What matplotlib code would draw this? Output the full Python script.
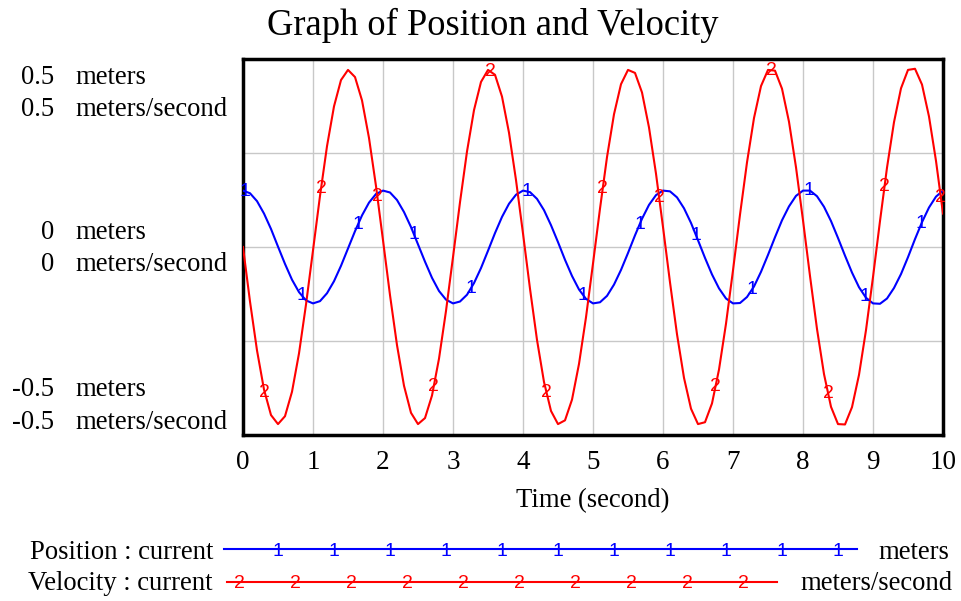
import matplotlib
matplotlib.use("Agg")
import matplotlib.pyplot as plt
import numpy as np
from matplotlib.transforms import blended_transform_factory, ScaledTranslation
from matplotlib.lines import Line2D

# ---------------- data ----------------
time = np.linspace(0, 10, 101)

position = [
    0.150, 0.143, 0.122, 0.089, 0.048, 0.001, -0.045, -0.087, -0.120, -0.142,
    -0.150, -0.144, -0.123, -0.091, -0.050, -0.004, 0.042, 0.084, 0.118, 0.141,
    0.150, 0.145, 0.125, 0.093, 0.053, 0.007, -0.039, -0.082, -0.117, -0.140,
    -0.150, -0.145, -0.127, -0.096, -0.056, -0.010, 0.037, 0.080, 0.115, 0.139,
    0.150, 0.146, 0.128, 0.098, 0.058, 0.013, -0.034, -0.077, -0.113, -0.138,
    -0.150, -0.147, -0.130, -0.100, -0.061, -0.016, 0.031, 0.075, 0.112, 0.138,
    0.150, 0.148, 0.132, 0.103, 0.064, 0.018, -0.029, -0.073, -0.110, -0.137,
    -0.150, -0.149, -0.133, -0.105, -0.066, -0.021, 0.026, 0.071, 0.108, 0.136,
    0.150, 0.150, 0.135, 0.107, 0.069, 0.024, -0.023, -0.068, -0.107, -0.135,
    -0.150, -0.151, -0.137, -0.109, -0.072, -0.027, 0.021, 0.066, 0.105, 0.134,
    0.150,
]

velocity = [
    0.000, -0.145, -0.275, -0.379, -0.447, -0.471, -0.450, -0.385, -0.283, -0.153,
    -0.009, 0.136, 0.268, 0.374, 0.444, 0.471, 0.452, 0.390, 0.290, 0.162,
    0.018, -0.128, -0.261, -0.369, -0.441, -0.471, -0.455, -0.395, -0.297, -0.170,
    -0.027, 0.119, 0.254, 0.364, 0.439, 0.471, 0.458, 0.400, 0.304, 0.178,
    0.036, -0.111, -0.247, -0.359, -0.436, -0.471, -0.461, -0.406, -0.311, -0.187,
    -0.044, 0.102, 0.239, 0.353, 0.433, 0.471, 0.463, 0.411, 0.318, 0.195,
    0.053, -0.094, -0.232, -0.348, -0.430, -0.471, -0.466, -0.416, -0.326, -0.204,
    -0.062, 0.086, 0.225, 0.343, 0.428, 0.471, 0.469, 0.421, 0.333, 0.212,
    0.071, -0.077, -0.218, -0.338, -0.425, -0.471, -0.472, -0.426, -0.340, -0.221,
    -0.080, 0.069, 0.211, 0.332, 0.422, 0.471, 0.474, 0.432, 0.347, 0.229,
    0.089,
]

position_marker_times = [0.03, 0.835, 1.64, 2.445, 3.25, 4.055, 4.86, 5.665,
                         6.47, 7.275, 8.08, 8.885, 9.69]
velocity_marker_times = [0.31, 1.115, 1.92, 2.725, 3.53, 4.335, 5.14, 5.945,
                         6.75, 7.555, 8.36, 9.165, 9.97]

x_ticks = list(range(0, 11))
y_ticks = [-0.5, 0.0, 0.5]
y_tick_text = ["-0.5", "0", "0.5"]
unit_position = "meters"
unit_velocity = "meters/second"
title = "Graph of Position and Velocity"
x_label = "Time (second)"
legend_names = ["Position : current", "Velocity : current"]

# ---------------- style ----------------
W, H = 961, 601
SERIF = "Liberation Serif"
SANS = "Liberation Sans"
BLUE = "#0000ff"
RED = "#ff0000"
FS = 19.2

fig = plt.figure(figsize=(W / 100, H / 100), dpi=100)
ax = fig.add_axes([243 / W, 1 - 435 / H, 700 / W, 376 / H])
ax.set_xlim(0, 10)
ax.set_ylim(-0.5, 0.5)

ax.plot(time, position, color=BLUE, lw=1.5, zorder=3)
ax.plot(time, velocity, color=RED, lw=1.5, zorder=3)

for t in position_marker_times:
    ax.text(t, np.interp(t, time, position), "1", color=BLUE, family=SANS,
            fontsize=14, ha="center", va="center", zorder=4, clip_on=False)
for t in velocity_marker_times:
    ax.text(t, np.interp(t, time, velocity), "2", color=RED, family=SANS,
            fontsize=14, ha="center", va="center", zorder=4, clip_on=False)

ax.set_xticks(x_ticks)
ax.set_xticklabels([str(v) for v in x_ticks], family=SERIF, fontsize=19.5)
ax.set_yticks([-0.5, -0.25, 0, 0.25, 0.5])
ax.tick_params(length=0, labelleft=False, pad=11)
ax.grid(True, color="#c8c8c8", lw=1)
for s in ax.spines.values():
    s.set_linewidth(2.5)
    s.set_color("black")

ax.set_xlabel(x_label, family=SERIF, fontsize=FS, labelpad=9)

fig.text(493 / W, 1 - 35 / H, title, family=SERIF, fontsize=26.3,
         ha="center", va="baseline")

# two-line y tick labels (number right-aligned, unit left-aligned)
offsets = {0.5: (-84 + 59, -116 + 59), 0.0: (246 - 238, 246 - 270),
           -0.5: (434 - 395, 434 - 428)}
for val, txt in zip(y_ticks, y_tick_text):
    o1, o2 = offsets[val]
    for off, unit in ((o1, unit_position), (o2, unit_velocity)):
        tr = blended_transform_factory(fig.transFigure, ax.transData) + \
            ScaledTranslation(0, off / 100, fig.dpi_scale_trans)
        fig.text(54 / W, val, txt, transform=tr, family=SERIF, fontsize=FS,
                 ha="right", va="baseline")
        fig.text(75 / W, val, unit, transform=tr, family=SERIF, fontsize=FS,
                 ha="left", va="baseline")

# legend
rows = [
    (legend_names[0], BLUE, "1", 549, 551, 559, 224, 857, 278, 11, unit_position, 878),
    (legend_names[1], RED, "2", 582, 583, 590, 227, 777, 239, 10, unit_velocity, 800),
]
for name, col, mk, ly, my, base, x0, x1, m0, n, unit, ux in rows:
    fig.text(213 / W, 1 - base / H, name, family=SERIF, fontsize=FS,
             ha="right", va="baseline")
    fig.add_artist(Line2D([x0 / W, x1 / W], [1 - ly / H, 1 - ly / H],
                          color=col, lw=1.5, transform=fig.transFigure))
    for k in range(n):
        fig.text((m0 + 56 * k) / W, 1 - my / H, mk, color=col, family=SANS,
                 fontsize=14, ha="center", va="center")
    fig.text(ux / W, 1 - base / H, unit, family=SERIF, fontsize=FS,
             ha="left", va="baseline")

fig.savefig("out.png", dpi=100)
